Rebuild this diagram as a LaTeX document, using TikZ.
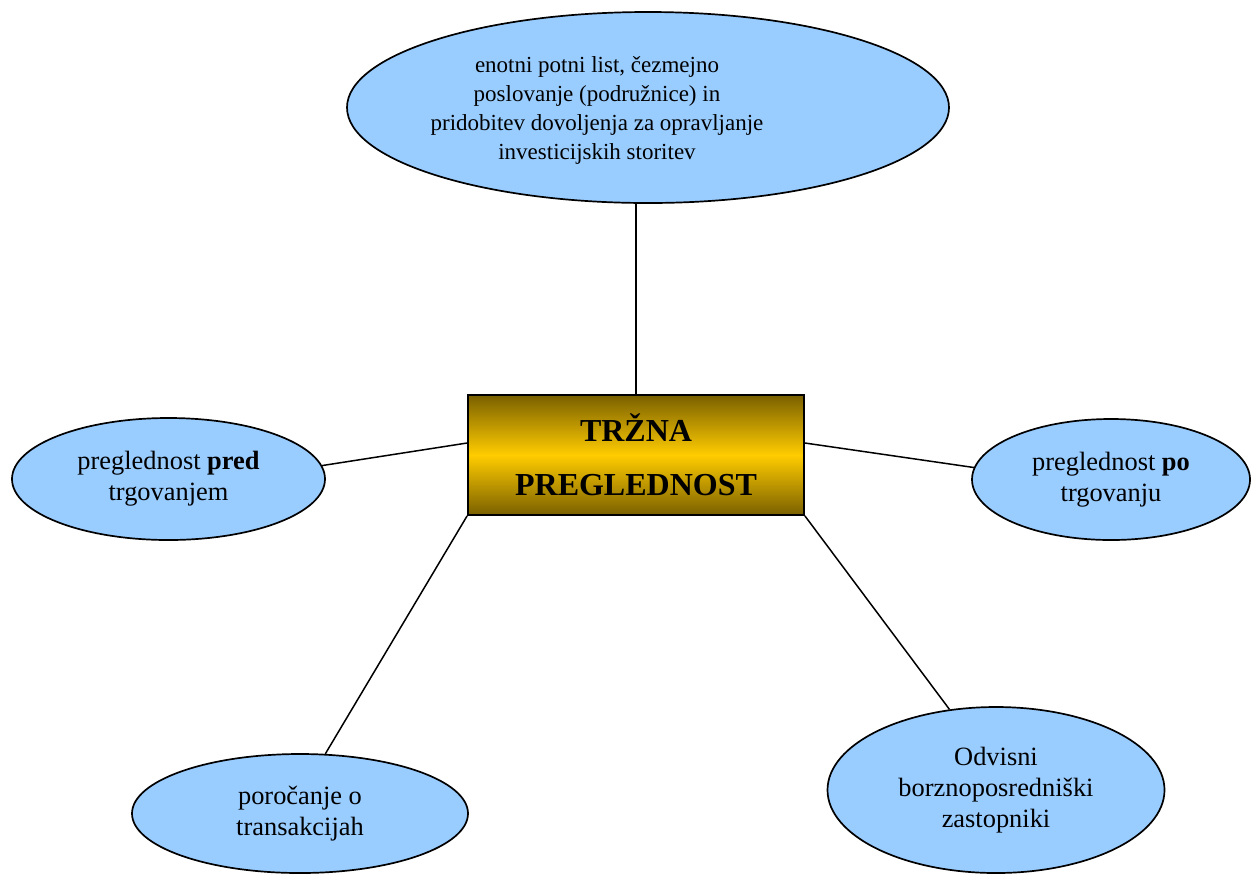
\documentclass[tikz,border=0pt]{standalone}
\usepackage{fontspec}
\setmainfont{Liberation Serif}
\usetikzlibrary{shapes.geometric,calc}
\definecolor{bubble}{RGB}{153,204,255}
\definecolor{goldmid}{RGB}{255,204,0}
\definecolor{goldedge}{RGB}{122,96,0}
\begin{document}
\begin{tikzpicture}[x=0.5pt,y=-0.5pt,
  bubble/.style={ellipse,draw=black,line width=0.85pt,fill=bubble,inner sep=0pt,
    align=center,font=\fontsize{13.2}{15.5}\selectfont},
  link/.style={draw=black,line width=0.75pt},
  titlebox/.style={rectangle,draw=black,line width=0.9pt,top color=goldedge,
    bottom color=goldedge,middle color=goldmid,inner sep=0pt,align=center,
    minimum width=168pt,minimum height=60pt,
    font=\fontsize{16}{27}\selectfont\bfseries}]
\useasboundingbox (0,0) rectangle (1251,874);

% centre box
\node[titlebox] (box) at (636,455) {TRŽNA\\PREGLEDNOST};

% surrounding ellipses
\node[bubble,minimum width=301pt,minimum height=95.5pt] (top) at (648,107.5) {};
\node[align=center,inner sep=0pt,font=\fontsize{11.5}{14.5}\selectfont] (toptext) at (597,110)
  {enotni potni list, čezmejno\\poslovanje (podružnice) in\\pridobitev dovoljenja za opravljanje\\investicijskih storitev};
\node[bubble,minimum width=156.5pt,minimum height=61pt] (left) at (168.5,479)
  {preglednost \textbf{pred}\\trgovanjem};
\node[bubble,minimum width=139pt,minimum height=60.5pt] (right) at (1111,479.5)
  {preglednost \textbf{po}\\trgovanju};
\node[bubble,minimum width=168pt,minimum height=59.5pt] (bl) at (300,813.5)
  {poročanje o\\transakcijah};
\node[bubble,minimum width=168.5pt,minimum height=83pt] (br) at (996,790)
  {Odvisni\\borznoposredniški\\zastopniki};

% connectors
\draw[link] (box.north) -- (box.north |- top.south);
\draw[link] ($(box.west)+(0,-12)$) -- (left.5);
\draw[link] ($(box.east)+(0,-12)$) -- (right.175);
\draw[link] (box.south west) -- (bl.67);
\draw[link] (box.south east) -- (br.120);
\end{tikzpicture}
\end{document}
